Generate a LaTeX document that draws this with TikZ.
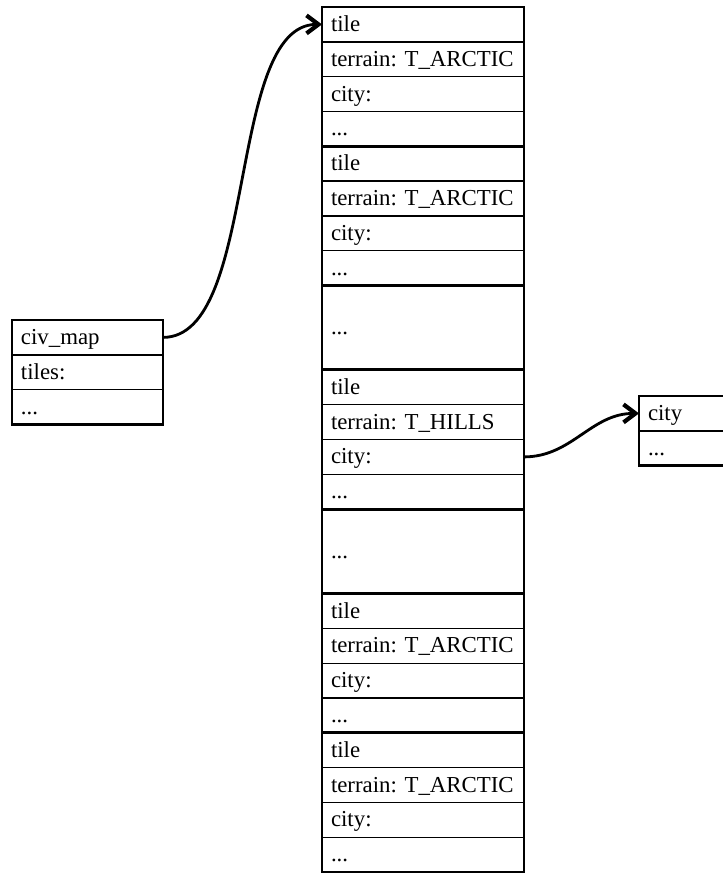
\documentclass[tikz,border=0pt]{standalone}
\usepackage{fontspec}
\setmainfont{Liberation Serif}
\usetikzlibrary{arrows.meta}

\begin{document}
\begin{tikzpicture}[
    x=0.02cm, y=-0.02cm,
    cell/.style={draw, line width=0.8pt, anchor=north west, outer sep=0pt, inner xsep=0.18cm, inner ysep=2pt,
        minimum height=0.696cm, text height=10pt, text depth=2pt, align=left},
    tilecell/.style={cell, text width=3.68cm},
    gapcell/.style={tilecell, minimum height=1.69cm},
    mapcell/.style={cell, text width=2.66cm},
    citycell/.style={cell, text width=3.2cm},
    frame/.style={line width=1.6pt},
    link/.style={-{Straight Barb[length=2.4mm, width=3.6mm, line width=2.4pt]}, line width=1.6pt},
    every node/.style={font=\fontsize{13}{15}\selectfont\frenchspacing}
]
\useasboundingbox (0,0) rectangle (723,873);
\clip (0,0) rectangle (723,873);

% civ_map
\node[mapcell] (civmap) at (12,320) {civ\_map};
\node[mapcell] (tiles) at (12,354.8) {tiles:};
\node[mapcell] (mapdots) at (12,389.6) {...};
\draw[frame] (civmap.north west) rectangle (mapdots.south east);

% Tiles array
\node[tilecell] (tileA) at (322,7) {tile};
\node[tilecell] (terrA) at (322,41.8) {terrain:~T\_ARCTIC};
\node[tilecell] (cityA) at (322,76.6) {city:};
\node[tilecell] (dotsA) at (322,111.4) {...};

\node[tilecell] (tileB) at (322,146.2) {tile};
\node[tilecell] (terrB) at (322,181) {terrain:~T\_ARCTIC};
\node[tilecell] (cityB) at (322,215.8) {city:};
\node[tilecell] (dotsB) at (322,250.6) {...};

\node[gapcell] (gapA) at (322,285.4) {...};

\node[tilecell] (tileC) at (322,369.9) {tile};
\node[tilecell] (terrC) at (322,404.7) {terrain:~T\_HILLS};
\node[tilecell] (cityC) at (322,439.5) {city:};
\node[tilecell] (dotsC) at (322,474.3) {...};

\node[gapcell] (gapB) at (322,509.1) {...};

\node[tilecell] (tileD) at (322,593.6) {tile};
\node[tilecell] (terrD) at (322,628.4) {terrain:~T\_ARCTIC};
\node[tilecell] (cityD) at (322,663.2) {city:};
\node[tilecell] (dotsD) at (322,698) {...};

\node[tilecell] (tileE) at (322,732.8) {tile};
\node[tilecell] (terrE) at (322,767.6) {terrain:~T\_ARCTIC};
\node[tilecell] (cityE) at (322,802.4) {city:};
\node[tilecell] (dotsE) at (322,837.2) {...};

\draw[frame] (tileA.north west) rectangle (dotsA.south east);
\draw[frame] (tileB.north west) rectangle (dotsB.south east);
\draw[frame] (gapA.north west) rectangle (gapA.south east);
\draw[frame] (tileC.north west) rectangle (dotsC.south east);
\draw[frame] (gapB.north west) rectangle (gapB.south east);
\draw[frame] (tileD.north west) rectangle (dotsD.south east);
\draw[frame] (tileE.north west) rectangle (dotsE.south east);

% City
\node[citycell] (city) at (639,396) {city};
\node[citycell] (citydots) at (639,430.8) {...};
\draw[frame] (city.north west) rectangle (citydots.south east);

% Pointers
\draw[link] (civmap.east) to[out=0, in=180, looseness=0.7] (tileA.west);
\draw[link] (cityC.east) to[out=0, in=180] (city.west);

\end{tikzpicture}
\end{document}
